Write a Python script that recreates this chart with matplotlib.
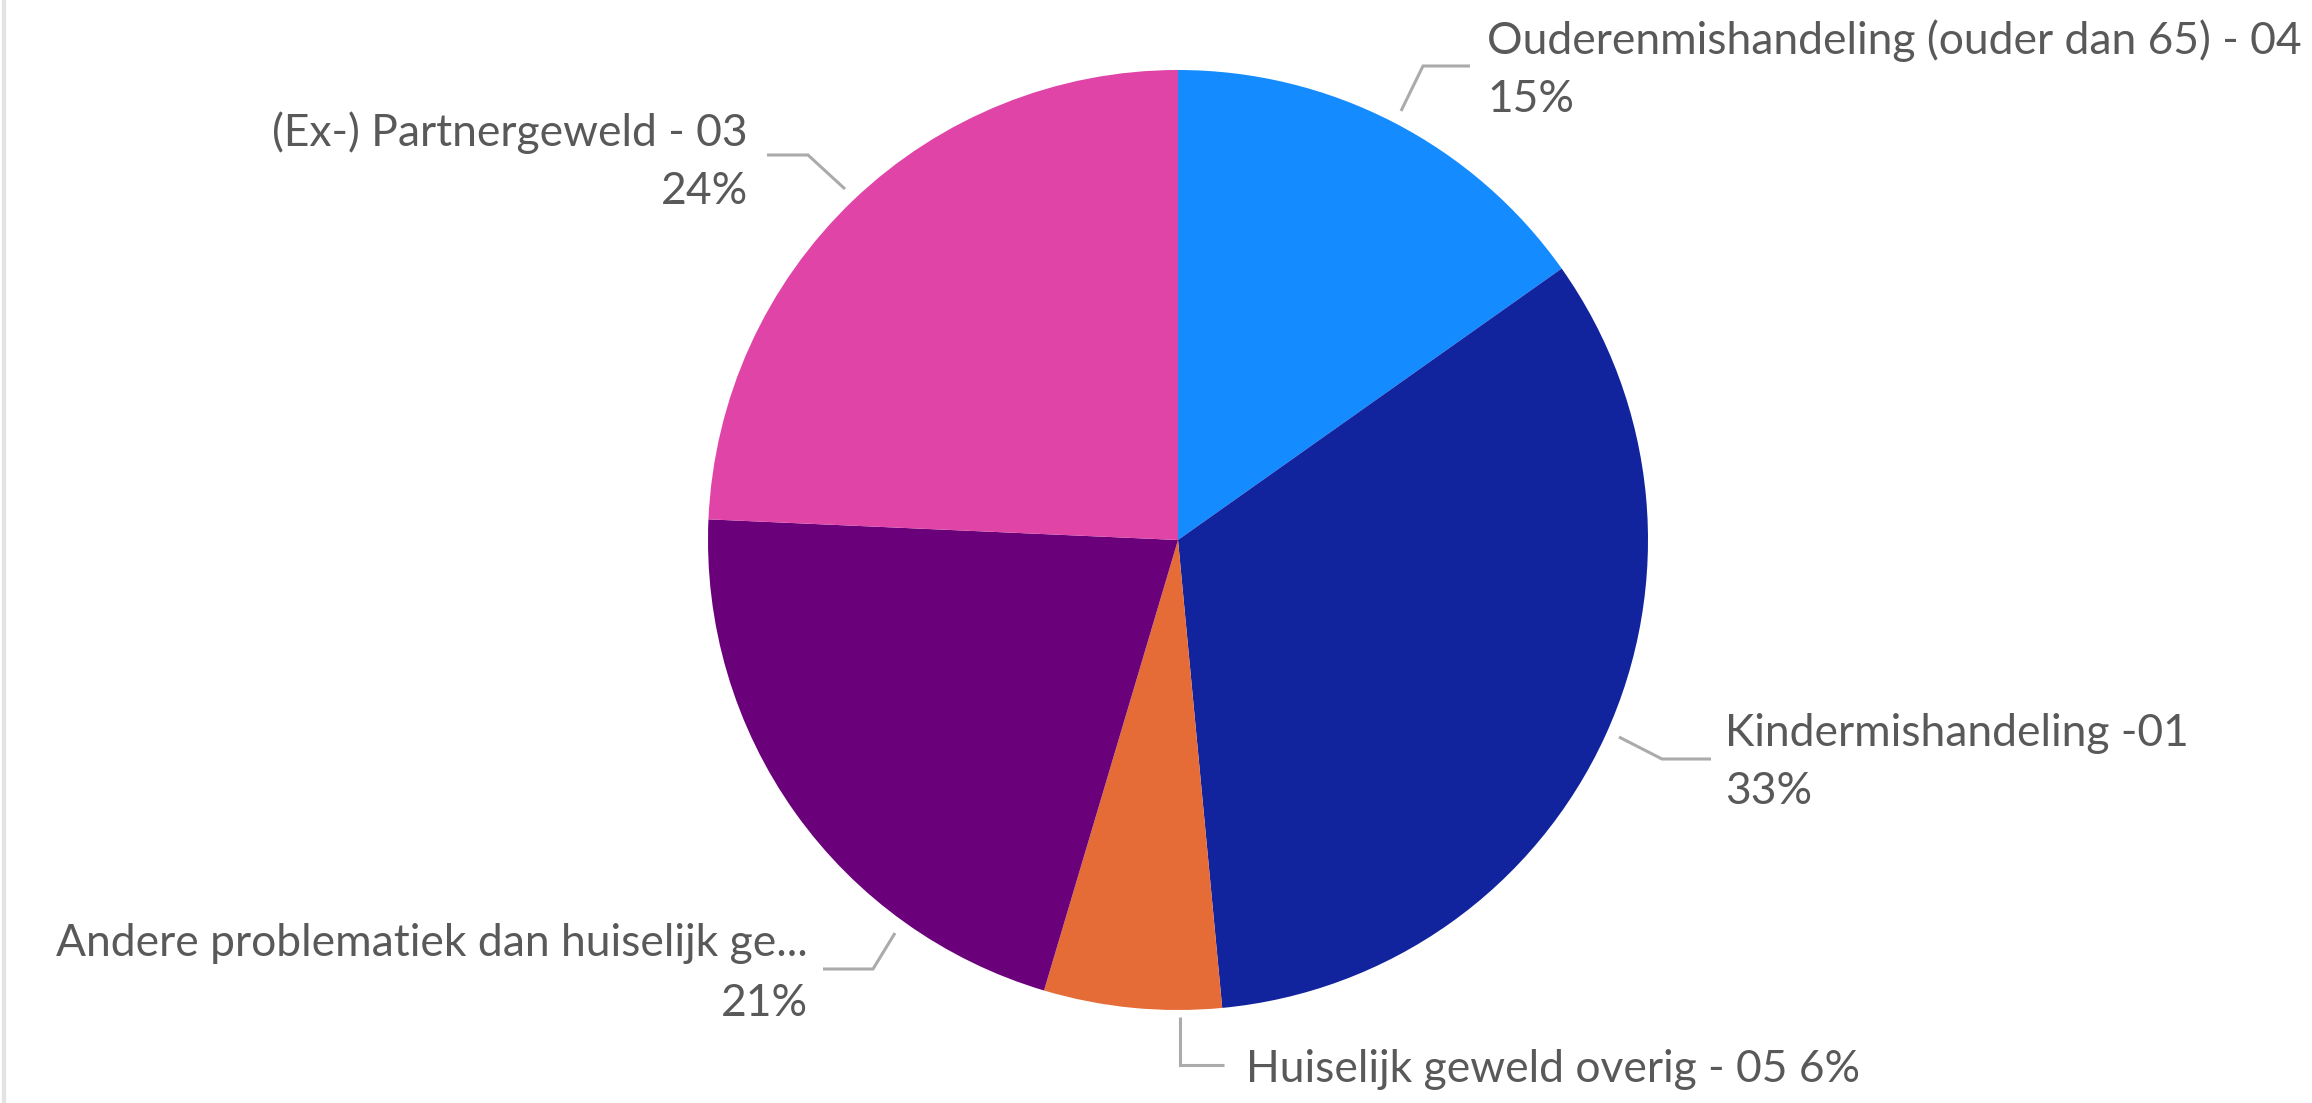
import matplotlib
matplotlib.use("Agg")
import matplotlib.pyplot as plt
from matplotlib.lines import Line2D

W, H = 2312, 1103

categories = [
    "Ouderenmishandeling (ouder dan 65) - 04",
    "Kindermishandeling -01",
    "Huiselijk geweld overig - 05",
    "Andere problematiek dan huiselijk ge...",
    "(Ex-) Partnergeweld - 03",
]
values = [15.2, 33.3, 6.1, 21.1, 24.3]
colors = ["#148CFF", "#12239E", "#E66C37", "#6B007B", "#E044A7"]

TEXT = "#595959"
LEAD = "#ABABAB"
FONT = "Lato"

fig = plt.figure(figsize=(W / 100, H / 100), dpi=100)
ax = fig.add_axes([0, 0, 1, 1])
ax.set_xlim(0, W)
ax.set_ylim(0, H)
ax.set_aspect("equal")
ax.axis("off")

def Y(y):
    return H - y

cx, cy, r = 1178, 540, 470
ax.pie(values, colors=colors, startangle=90, counterclock=False,
       center=(cx, Y(cy)), radius=r, frame=True,
       wedgeprops=dict(linewidth=0))
ax.set_xlim(0, W)
ax.set_ylim(0, H)
ax.axis("off")

total = sum(values)
pcts = [f"{round(v / total * 100)}%" for v in values]

# fit font size so the longest label is ~813 px wide
fs = 30
t = ax.text(0, 0, categories[0], fontsize=fs, family=FONT)
fig.canvas.draw()
w = t.get_window_extent().width
t.remove()
fs = fs * 813 / w

# leader lines (full-pixel coords)
leaders = [
    [(1401, 111), (1423, 66), (1470, 66)],
    [(1619, 737), (1662, 759), (1711, 759)],
    [(1180, 1017), (1180, 1065), (1224, 1065)],
    [(895, 933), (873, 969), (823, 969)],
    [(845, 189), (808, 155), (767, 155)],
]
for pts in leaders:
    ax.plot([p[0] for p in pts], [Y(p[1]) for p in pts], color=LEAD, lw=2.2,
            solid_capstyle="butt", solid_joinstyle="miter")

kw = dict(fontsize=fs, family=FONT, color=TEXT, va="center")
# Ouderen
ax.text(1487, Y(41), categories[0], ha="left", **kw)
ax.text(1487, Y(100), pcts[0], ha="left", **kw)
# Kinder
ax.text(1725, Y(733), categories[1], ha="left", **kw)
ax.text(1725, Y(792), pcts[1], ha="left", **kw)
# Huiselijk
ax.text(1246, Y(1069), categories[2] + " " + pcts[2], ha="left", **kw)
# Andere
ax.text(808, Y(944), categories[3], ha="right", **kw)
ax.text(808, Y(1003), pcts[3], ha="right", **kw)
# Partner
ax.text(748, Y(133), categories[4], ha="right", **kw)
ax.text(748, Y(192), pcts[4], ha="right", **kw)

# thin left border
fig.add_artist(Line2D([3.5 / W, 3.5 / W], [0, 1], transform=fig.transFigure,
                      color="#E3E3E3", lw=3))

fig.savefig("out.png", dpi=100, facecolor="white")
